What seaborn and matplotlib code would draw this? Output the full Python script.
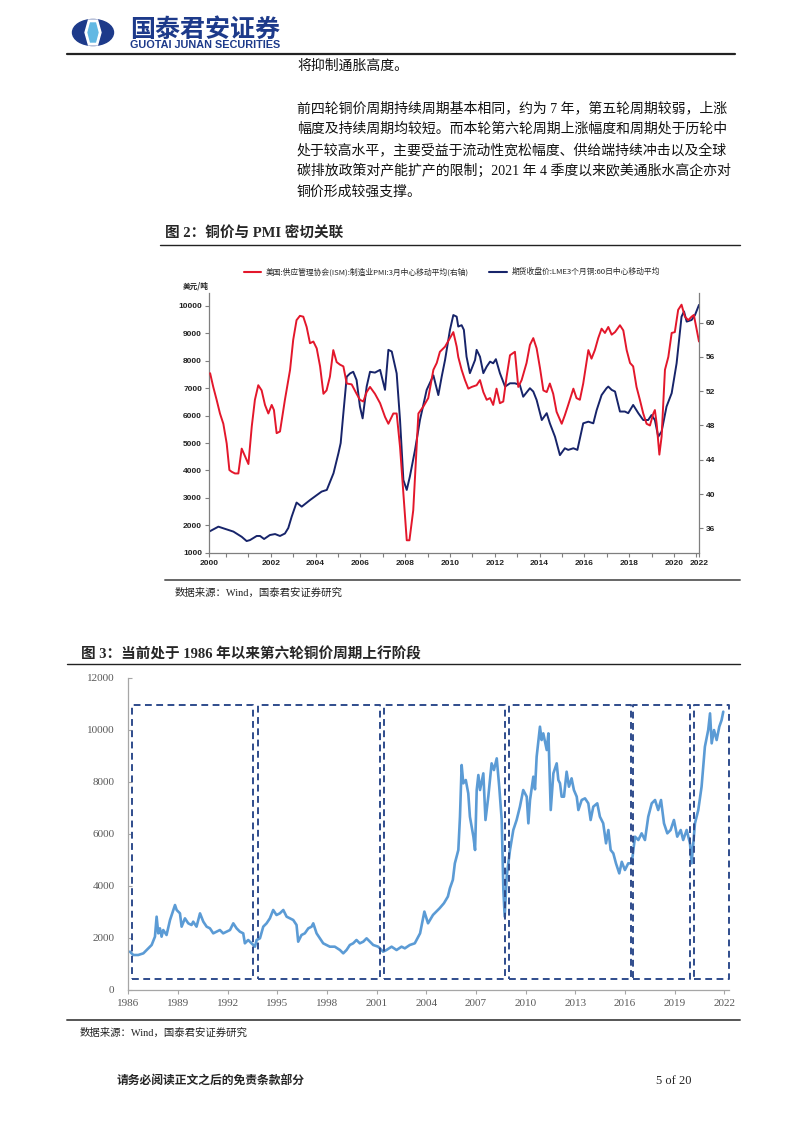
import matplotlib
matplotlib.use("Agg")
import pandas as pd
import matplotlib.pyplot as plt
import seaborn as sns
from matplotlib.lines import Line2D
from matplotlib.patches import Ellipse, Polygon

# ---------------- page text ----------------
body_lines = [
    "将抑制通胀高度。",
    "前四轮铜价周期持续周期基本相同，约为 7 年，第五轮周期较弱，上涨",
    "幅度及持续周期均较短。而本轮第六轮周期上涨幅度和周期处于历轮中",
    "处于较高水平，主要受益于流动性宽松幅度、供给端持续冲击以及全球",
    "碳排放政策对产能扩产的限制；2021 年 4 季度以来欧美通胀水高企亦对",
    "铜价形成较强支撑。",
]
body_y = [66, 108, 129, 150, 171, 192]
fig2_title = "图 2：铜价与 PMI 密切关联"
fig3_title = "图 3：当前处于 1986 年以来第六轮铜价周期上行阶段"
source_text = "数据来源：Wind，国泰君安证券研究"
footer_text = "请务必阅读正文之后的免责条款部分"
page_no = "5 of 20"

# ---------------- figure 2 data (display years) ----------------
pmi_label = "美国:供应管理协会(ISM):制造业PMI:3月中心移动平均(右轴)"
cu_label = "期货收盘价:LME3个月铜:60日中心移动平均"

pmi_year = [1999.29, 1999.43, 1999.58, 1999.73, 1999.88, 2000.03, 2000.15, 2000.25, 2000.40, 2000.55,
            2000.70, 2000.85, 2001.00, 2001.15, 2001.29, 2001.44, 2001.59, 2001.74, 2001.89, 2002.04,
            2002.14, 2002.26, 2002.41, 2002.63, 2002.86, 2003.00, 2003.15, 2003.30, 2003.45, 2003.60,
            2003.75, 2003.90, 2004.05, 2004.20, 2004.35, 2004.49, 2004.64, 2004.79, 2004.94, 2005.09,
            2005.24, 2005.39, 2005.61, 2005.83, 2005.98, 2006.13, 2006.28, 2006.43, 2006.65, 2006.88,
            2007.10, 2007.25, 2007.47, 2007.62, 2007.77, 2007.92, 2008.07, 2008.19, 2008.36, 2008.59,
            2008.81, 2009.03, 2009.26, 2009.41, 2009.55, 2009.78, 2010.00, 2010.15, 2010.30, 2010.37,
            2010.52, 2010.67, 2010.82, 2010.97, 2011.19, 2011.34, 2011.49, 2011.64, 2011.79, 2011.93,
            2012.08, 2012.23, 2012.38, 2012.53, 2012.68, 2012.90, 2013.05, 2013.20, 2013.42, 2013.57,
            2013.72, 2013.87, 2014.02, 2014.17, 2014.32, 2014.46, 2014.61, 2014.76, 2014.99, 2015.13,
            2015.28, 2015.51, 2015.65, 2015.80, 2015.95, 2016.10, 2016.18, 2016.32, 2016.47, 2016.62,
            2016.77, 2016.92, 2017.07, 2017.22, 2017.37, 2017.59, 2017.74, 2017.89, 2018.04, 2018.18,
            2018.33, 2018.48, 2018.63, 2018.78, 2018.93, 2019.08, 2019.15, 2019.23, 2019.35, 2019.45,
            2019.60, 2019.75, 2019.90, 2020.04, 2020.19, 2020.34, 2020.49, 2020.64, 2020.79, 2020.89,
            2021.01, 2021.12]
pmi_value = [54.1, 52.5, 51.0, 49.4, 48.2, 45.9, 42.8, 42.6, 42.4, 42.4,
             45.3, 44.4, 43.5, 47.9, 51.0, 52.7, 52.1, 50.4, 49.4, 50.4,
             49.8, 47.1, 47.3, 51.0, 54.5, 58.0, 60.3, 60.8, 60.7, 59.5,
             57.6, 57.8, 57.0, 54.9, 51.7, 52.1, 53.7, 56.8, 55.4, 55.1,
             54.9, 52.9, 52.8, 51.7, 51.0, 50.8, 51.9, 52.5, 51.7, 50.6,
             49.0, 48.2, 49.4, 49.4, 45.5, 40.1, 34.6, 34.6, 38.1, 49.4,
             50.2, 51.2, 54.5, 55.3, 56.6, 57.2, 58.2, 58.9, 57.2, 56.0,
             54.5, 53.3, 52.3, 52.5, 52.7, 53.3, 51.9, 51.0, 51.2, 50.4,
             52.3, 50.6, 50.8, 53.7, 56.2, 56.6, 52.5, 53.3, 55.3, 57.4,
             58.2, 57.0, 54.7, 52.1, 51.9, 52.9, 51.7, 49.6, 48.2, 49.2,
             50.4, 52.3, 51.2, 51.0, 52.9, 55.4, 56.8, 55.8, 56.8, 58.2,
             59.3, 58.8, 59.5, 58.6, 58.9, 59.7, 59.1, 56.8, 55.3, 54.9,
             52.5, 51.0, 49.4, 48.2, 48.0, 49.4, 49.8, 48.2, 44.6, 46.7,
             54.5, 56.0, 58.8, 58.9, 61.5, 62.1, 60.7, 60.3, 60.7, 60.9,
             59.3, 57.8]

cu_year = [1999.24, 1999.66, 1999.88, 2000.33, 2000.70, 2000.92, 2001.07, 2001.37, 2001.52, 2001.70,
           2001.96, 2002.19, 2002.41, 2002.63, 2002.78, 2002.93, 2003.15, 2003.38, 2003.75, 2004.05,
           2004.27, 2004.50, 2004.80, 2005.02, 2005.12, 2005.24, 2005.39, 2005.54, 2005.68, 2005.83,
           2005.98, 2006.10, 2006.28, 2006.43, 2006.65, 2006.88, 2007.10, 2007.25, 2007.40, 2007.62,
           2007.77, 2007.92, 2008.07, 2008.21, 2008.44, 2008.66, 2008.96, 2009.26, 2009.48, 2009.63,
           2009.78, 2010.00, 2010.15, 2010.30, 2010.37, 2010.52, 2010.62, 2010.74, 2010.89, 2011.12,
           2011.19, 2011.34, 2011.49, 2011.64, 2011.79, 2011.93, 2012.05, 2012.23, 2012.46, 2012.68,
           2012.90, 2013.12, 2013.27, 2013.57, 2013.72, 2013.87, 2014.10, 2014.32, 2014.46, 2014.69,
           2014.91, 2015.13, 2015.28, 2015.51, 2015.69, 2015.95, 2016.18, 2016.40, 2016.55, 2016.77,
           2016.99, 2017.07, 2017.22, 2017.37, 2017.59, 2017.81, 2017.96, 2018.18, 2018.41, 2018.63,
           2018.85, 2019.00, 2019.15, 2019.30, 2019.45, 2019.67, 2019.90, 2020.12, 2020.34, 2020.45,
           2020.57, 2020.79, 2020.94, 2021.12]
cu_value = [1766, 1950, 1890, 1770, 1580, 1425, 1460, 1610, 1610, 1500,
            1645, 1680, 1610, 1700, 1900, 2310, 2830, 2680, 2920, 3100,
            3230, 3290, 3900, 4630, 5000, 6090, 7420, 7540, 7600, 7300,
            6330, 5900, 7060, 7600, 7570, 7670, 6940, 8400, 8340, 7540,
            5840, 3650, 3290, 3780, 4750, 5840, 6940, 7470, 6750, 7420,
            8030, 9130, 9670, 9610, 9250, 9300, 9130, 8150, 7550, 8030,
            8400, 8150, 7550, 7790, 7970, 7910, 8060, 7550, 7060, 7180,
            7180, 7120, 6690, 7000, 6880, 6570, 5840, 6090, 5720, 5230,
            4560, 4810, 4750, 4810, 4750, 5720, 5780, 5720, 6200, 6750,
            7000, 7060, 6940, 6880, 6150, 6150, 6090, 6390, 6090, 5840,
            5840, 6020, 5840, 5230, 5420, 6330, 6820, 7910, 9610, 9800,
            9430, 9490, 9670, 10040]

fig2_major_years = [2002, 2004, 2006, 2008, 2010, 2012, 2014, 2016, 2018, 2020]
fig2_edge_labels = ["2000", "2022"]

# ---------------- figure 3 data ----------------
lme_year = [1986.10, 1986.30, 1986.60, 1986.91, 1987.21, 1987.41, 1987.61, 1987.71, 1987.81, 1987.91,
            1988.01, 1988.11, 1988.31, 1988.52, 1988.72, 1988.82, 1988.92, 1989.12, 1989.22, 1989.42,
            1989.62, 1989.82, 1989.92, 1990.12, 1990.33, 1990.53, 1990.73, 1990.93, 1991.13, 1991.33,
            1991.53, 1991.73, 1991.94, 1992.14, 1992.34, 1992.54, 1992.74, 1992.94, 1993.04, 1993.24,
            1993.44, 1993.65, 1993.75, 1993.95, 1994.15, 1994.35, 1994.55, 1994.75, 1994.95, 1995.15,
            1995.36, 1995.56, 1995.76, 1995.96, 1996.16, 1996.26, 1996.46, 1996.66, 1996.87, 1997.07,
            1997.17, 1997.37, 1997.57, 1997.77, 1997.97, 1998.17, 1998.47, 1998.78, 1998.98, 1999.18,
            1999.38, 1999.58, 1999.78, 1999.98, 2000.19, 2000.39, 2000.59, 2000.79, 2001.09, 2001.39,
            2001.59, 2001.90, 2002.20, 2002.50, 2002.70, 2003.00, 2003.30, 2003.62, 2003.88, 2004.10,
            2004.40, 2004.80, 2005.06, 2005.30, 2005.42, 2005.60, 2005.72, 2005.93, 2006.03, 2006.13,
            2006.23, 2006.38, 2006.53, 2006.63, 2006.84, 2006.94, 2007.04, 2007.14, 2007.24, 2007.44,
            2007.57, 2007.74, 2007.94, 2008.08, 2008.25, 2008.40, 2008.55, 2008.65, 2008.73, 2008.85,
            2009.05, 2009.25, 2009.45, 2009.65, 2009.85, 2010.06, 2010.16, 2010.26, 2010.46, 2010.56,
            2010.66, 2010.86, 2010.96, 2011.06, 2011.27, 2011.37, 2011.51, 2011.67, 2011.87, 2011.97,
            2012.07, 2012.17, 2012.31, 2012.47, 2012.61, 2012.77, 2012.91, 2013.08, 2013.18, 2013.38,
            2013.58, 2013.78, 2013.92, 2014.08, 2014.32, 2014.48, 2014.68, 2014.85, 2014.99, 2015.13,
            2015.29, 2015.45, 2015.65, 2015.80, 2015.99, 2016.19, 2016.40, 2016.60, 2016.80, 2017.00,
            2017.20, 2017.40, 2017.61, 2017.81, 2018.00, 2018.17, 2018.35, 2018.55, 2018.75, 2018.95,
            2019.15, 2019.36, 2019.51, 2019.72, 2019.92, 2020.02, 2020.12, 2020.22, 2020.42, 2020.62,
            2020.82, 2021.02, 2021.13, 2021.23, 2021.37, 2021.53, 2021.69, 2021.83, 2021.93]
lme_price = [1455, 1327, 1327, 1391, 1583, 1712, 2032, 2801, 2160, 2352,
             2032, 2288, 2096, 2673, 3058, 3250, 3058, 2929, 2417, 2737,
             2545, 2481, 2609, 2417, 2929, 2609, 2417, 2352, 2160, 2224,
             2288, 2160, 2224, 2288, 2545, 2352, 2224, 2160, 1776, 1904,
             1776, 1647, 1904, 1968, 2417, 2545, 2737, 3058, 2865, 2929,
             3058, 2801, 2737, 2673, 2481, 1840, 2096, 2160, 2352, 2417,
             2545, 2160, 1968, 1776, 1712, 1647, 1647, 1519, 1391, 1519,
             1712, 1776, 1904, 1776, 1840, 1968, 1840, 1712, 1647, 1455,
             1519, 1647, 1519, 1647, 1583, 1712, 1776, 2160, 2996, 2546,
             2868, 3125, 3318, 3575, 3891, 4218, 4852, 5365, 6647, 8634,
             7929, 8057, 7544, 6647, 5878, 5365, 7672, 8249, 7672, 8313,
             6519, 7416, 8698, 8441, 8890, 7800, 6519, 3827, 2804, 4339,
             5365, 6134, 6519, 7031, 7672, 7416, 6391, 7288, 8185, 7700,
             8954, 10108, 9595, 9851, 9210, 9851, 6903, 8313, 8698, 8057,
             7929, 7416, 7416, 8377, 7800, 8121, 7672, 7416, 6903, 7288,
             7352, 7160, 6519, 7031, 7160, 6647, 6391, 5622, 6134, 5365,
             5237, 4852, 4467, 4910, 4596, 4852, 4852, 5878, 5750, 6006,
             5750, 6647, 7160, 7288, 6903, 7288, 6391, 6006, 6134, 6519,
             5878, 6134, 5750, 6134, 5622, 4852, 5622, 6391, 6903, 7800,
             9338, 9979, 10620, 9467, 9979, 9595, 10108, 10364, 10685]

cycle_start = [1986.22, 1993.83, 2001.42, 2008.97, 2016.50, 2020.14]
cycle_end = [1993.53, 2001.17, 2008.77, 2016.34, 2019.94, 2022.25]
cycle_low = 400
cycle_high = 10950

RED = "#E3172B"
NAVY = "#17246A"
CU_BLUE = "#5B9BD5"
BOX_BLUE = "#2F4C8C"
LOGO_NAVY = "#1D3A8A"

CJK = ["Noto Sans CJK SC", "DejaVu Sans"]
SERIF = ["Liberation Serif", "Noto Sans CJK SC"]

sns.set_theme(style="white")
plt.rcParams["font.family"] = SERIF
plt.rcParams["axes.unicode_minus"] = False

W, H = 802, 1133
fig = plt.figure(figsize=(W / 100, H / 100), dpi=100)

# page layer in pixel coordinates
page = fig.add_axes([0, 0, 1, 1])
page.set_xlim(0, W)
page.set_ylim(H, 0)
page.axis("off")

# logo + header
page.add_patch(Ellipse((93, 32.5), 41, 26, color=LOGO_NAVY))
page.add_patch(Polygon([(85, 32.5), (88.5, 20), (97.5, 20), (101, 32.5), (97.5, 45), (88.5, 45)],
                       closed=True, color="white"))
page.add_patch(Polygon([(88, 32.5), (90.5, 23), (95.5, 23), (98, 32.5), (95.5, 42), (90.5, 42)],
                       closed=True, color="#62B8E3"))
page.text(130, 30, "国泰君安证券", family=CJK, fontsize=18, weight="bold", color=LOGO_NAVY,
          va="center", ha="left")
page.text(130, 45, "GUOTAI JUNAN SECURITIES", family=["Liberation Sans"], fontsize=7.8,
          weight="bold", color=LOGO_NAVY, va="center", ha="left")
page.plot([67, 735], [53.5, 53.5], color="#222222", lw=1.6)

# body paragraph
for line, y in zip(body_lines, body_y):
    page.text(297, y, line, fontsize=10, va="center", ha="left", color="#111111")

# figure 2 title / source
page.text(165, 234, fig2_title, fontsize=10.5, weight="bold", va="center", ha="left")
page.plot([160, 740], [245, 245], color="#222222", lw=1.0)
page.plot([165, 740], [580, 580], color="#666666", lw=1.4)
page.text(175, 593, source_text, fontsize=7.5, va="center", ha="left", color="#222222")

# figure 3 title / source
page.text(81, 655, fig3_title, fontsize=10.5, weight="bold", va="center", ha="left")
page.plot([67, 740], [664, 664], color="#222222", lw=1.0)
page.plot([67, 740], [1020, 1020], color="#555555", lw=1.4)
page.text(80, 1033, source_text, fontsize=7.5, va="center", ha="left", color="#222222")

# footer
page.text(117, 1081, footer_text, fontsize=8.5, weight="bold", va="center", ha="left")
page.text(692, 1081, page_no, fontsize=9, va="center", ha="right")

# ---------------- figure 2 ----------------
ax2 = fig.add_axes([209 / W, 1 - 552.7 / H, 490 / W, 260 / H])
ax2.set_facecolor("none")
df_cu = pd.DataFrame({"year": cu_year, "price": cu_value})
sns.lineplot(data=df_cu, x="year", y="price", ax=ax2, color=NAVY, lw=1.4)
ax2.set_xlim(1999.24, 2021.12)
ax2.set_ylim(1000, 10485)
ax2.set_yticks(range(1000, 10001, 1000))
ax2.set_xticks([1999.24] + fig2_major_years + [2021.12])
ax2.set_xticklabels([fig2_edge_labels[0]] + [str(y) for y in fig2_major_years] + [fig2_edge_labels[1]])
ax2.set_xticks(range(2000, 2022), minor=True)
ax2.set_xlabel("")
ax2.set_ylabel("")

axr = ax2.twinx()
df_pmi = pd.DataFrame({"year": pmi_year, "pmi": pmi_value})
sns.lineplot(data=df_pmi, x="year", y="pmi", ax=axr, color=RED, lw=1.4)
axr.set_ylim(33.15, 63.5)
axr.set_yticks(range(36, 61, 4))
axr.set_ylabel("")
axr.set_facecolor("none")

for a in (ax2, axr):
    for s in a.spines.values():
        s.set_visible(False)
ax2.spines["left"].set_visible(True)
ax2.spines["bottom"].set_visible(True)
axr.spines["right"].set_visible(True)
for s in (ax2.spines["left"], ax2.spines["bottom"], axr.spines["right"]):
    s.set_color("#7F7F7F")
    s.set_linewidth(0.9)

ax2.tick_params(axis="both", which="major", length=3, width=0.8, color="#7F7F7F",
                pad=2, direction="out", bottom=True, left=True)
ax2.tick_params(axis="x", which="minor", length=3, width=0.8, color="#7F7F7F",
                direction="out", bottom=True)
axr.tick_params(axis="y", length=3, width=0.8, color="#7F7F7F", pad=2, direction="out", right=True)
for lab in ax2.get_xticklabels() + ax2.get_yticklabels() + axr.get_yticklabels():
    lab.set_family(["Liberation Sans"])
    lab.set_fontweight("bold")
    lab.set_fontsize(6)
    lab.set_color("#222222")

page.text(196, 286, "美元/吨", family=CJK, fontsize=5.5, weight="bold", va="center", ha="center")

handles = [Line2D([0], [0], color=RED, lw=1.5), Line2D([0], [0], color=NAVY, lw=1.5)]
leg = fig.legend(handles, [pmi_label, cu_label], loc="center", ncol=2,
                 bbox_to_anchor=(452 / W, 1 - 272 / H), frameon=False,
                 handlelength=2.2, handletextpad=0.6, columnspacing=2.6,
                 prop={"family": CJK, "size": 5.6})

# ---------------- figure 3 ----------------
ax3 = fig.add_axes([128.3 / W, 1 - 989.5 / H, 601.1 / W, 312 / H])
ax3.set_facecolor("none")
df_lme = pd.DataFrame({"year": lme_year, "price": lme_price})
sns.lineplot(data=df_lme, x="year", y="price", ax=ax3, color=CU_BLUE, lw=1.9)
for s, e in zip(cycle_start, cycle_end):
    ax3.plot([s, e, e, s, s], [cycle_low, cycle_low, cycle_high, cycle_high, cycle_low],
             color=BOX_BLUE, lw=1.4, ls=(0, (3.5, 2.3)), clip_on=False, zorder=3)
ax3.set_xlim(1986, 2022.3)
ax3.set_ylim(0, 12000)
ax3.set_xticks(range(1986, 2023, 3))
ax3.set_yticks(range(0, 12001, 2000))
ax3.set_xlabel("")
ax3.set_ylabel("")
for side in ("top", "right"):
    ax3.spines[side].set_visible(False)
for side in ("left", "bottom"):
    ax3.spines[side].set_color("#A6A6A6")
    ax3.spines[side].set_linewidth(0.9)
ax3.tick_params(axis="x", length=3, width=0.8, color="#A6A6A6", direction="out", pad=4, bottom=True)
ax3.tick_params(axis="y", length=3, width=0.8, color="#A6A6A6", direction="in", pad=10, left=True)
for lab in ax3.get_xticklabels() + ax3.get_yticklabels():
    lab.set_family(["Liberation Serif"])
    lab.set_fontsize(8)
    lab.set_color("#595959")

fig.savefig("out.png", dpi=100)
